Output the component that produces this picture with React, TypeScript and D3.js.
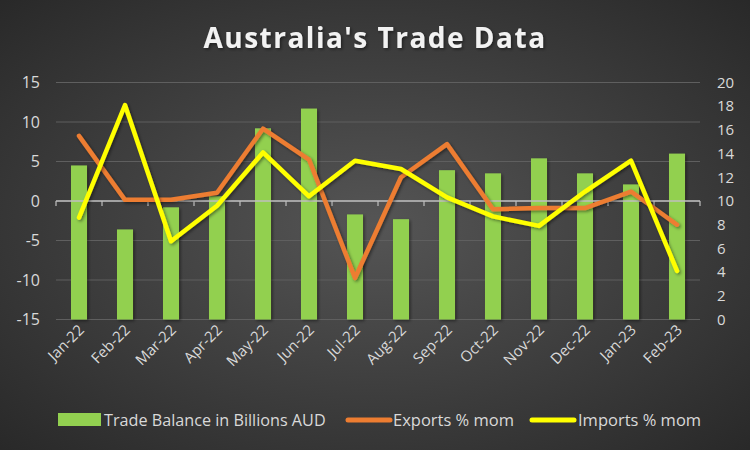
import React from "react";
import * as d3 from "d3";

const categories = ["Jan-22","Feb-22","Mar-22","Apr-22","May-22","Jun-22","Jul-22","Aug-22","Sep-22","Oct-22","Nov-22","Dec-22","Jan-23","Feb-23"];
const tradeBalance = [4.5, -3.6, -0.8, 0.6, 9.2, 11.7, -1.7, -2.3, 3.9, 3.5, 5.4, 3.5, 2.1, 6.0];
const exportsMom = [15.5, 10.1, 10.1, 10.7, 16.1, 13.5, 3.5, 12.0, 14.8, 9.3, 9.4, 9.4, 10.8, 8.0];
const importsMom = [8.6, 18.1, 6.6, 9.6, 14.1, 10.4, 13.4, 12.7, 10.3, 8.7, 7.9, 10.8, 13.4, 4.1];
const leftTicks = [-15, -10, -5, 0, 5, 10, 15];
const rightTicks = [0, 2, 4, 6, 8, 10, 12, 14, 16, 18, 20];
const title = "Australia's Trade Data";
const legendLabels = ["Trade Balance in Billions AUD", "Exports % mom", "Imports % mom"];

const W = 750, H = 450;
const plot = { left: 56, right: 700, top: 82.5, bottom: 319.5 };
const FONT = "'Open Sans', sans-serif";
const TXT = "#d9d9d9";
const GREEN = "#92D050", ORANGE = "#ED7D31", YELLOW = "#FFFF00";

export default function App() {
  const x = d3.scaleBand<string>().domain(categories).range([plot.left, plot.right]).paddingInner(0.652).paddingOuter(0.326);
  const step = x.step();
  const yL = d3.scaleLinear().domain([-15, 15]).range([plot.bottom, plot.top]);
  const yR = d3.scaleLinear().domain([0, 20]).range([plot.bottom, plot.top]);
  const cx = (c: string) => (x(c) as number) + x.bandwidth() / 2;
  const line = d3.line<number>().x((_, i) => cx(categories[i])).y((d) => yR(d));
  const boundaries = d3.range(categories.length + 1).map((i) => plot.left + i * step);

  return (
    <svg width={W} height={H} style={{ position: "absolute", left: 0, top: 0 }}>
      <defs>
        <radialGradient id="bg" cx="50%" cy="50%" r="75%">
          <stop offset="0%" stopColor="#555555" />
          <stop offset="100%" stopColor="#262626" />
        </radialGradient>
        <filter id="sh" x="-20%" y="-20%" width="140%" height="140%">
          <feDropShadow dx="1.5" dy="1.5" stdDeviation="1.5" floodColor="#000" floodOpacity="0.45" />
        </filter>
      </defs>
      <rect x={0} y={0} width={W} height={H} fill="url(#bg)" />
      <text x={375} y={48} textAnchor="middle" fill="#f2f2f2" fontFamily={FONT} fontWeight={700} fontSize={28} letterSpacing={1.5} filter="url(#sh)">{title}</text>

      {leftTicks.map((t) => (
        <line key={"g" + t} x1={plot.left} x2={plot.right} y1={yL(t)} y2={yL(t)} stroke="#5f5f5f" strokeWidth={1.2} />
      ))}
      {leftTicks.map((t) => (
        <text key={"l" + t} x={40} y={yL(t)} dy="0.35em" textAnchor="end" fill={TXT} fontFamily={FONT} fontSize={16}>{t}</text>
      ))}
      {rightTicks.map((t) => (
        <text key={"r" + t} x={717} y={yR(t)} dy="0.35em" textAnchor="start" fill={TXT} fontFamily={FONT} fontSize={15}>{t}</text>
      ))}

      {categories.map((c, i) => (
        <rect key={"b" + c} x={x(c)} y={yL(tradeBalance[i])} width={x.bandwidth()} height={yL(-15) - yL(tradeBalance[i])} fill={GREEN} filter="url(#sh)" />
      ))}

      <line x1={plot.left} x2={plot.right} y1={yL(0)} y2={yL(0)} stroke="#bfbfbf" strokeWidth={1.5} />
      {boundaries.map((b, i) => (
        <line key={"t" + i} x1={b} x2={b} y1={yL(0)} y2={yL(0) + 5} stroke="#bfbfbf" strokeWidth={1.2} />
      ))}

      <path d={line(exportsMom) || ""} fill="none" stroke={ORANGE} strokeWidth={4.5} strokeLinejoin="round" strokeLinecap="round" filter="url(#sh)" />
      <path d={line(importsMom) || ""} fill="none" stroke={YELLOW} strokeWidth={4.5} strokeLinejoin="round" strokeLinecap="round" filter="url(#sh)" />

      {categories.map((c) => (
        <text key={"x" + c} transform={`translate(${cx(c) + 6},${331}) rotate(-45)`} textAnchor="end" fill={TXT} fontFamily={FONT} fontSize={15}>{c}</text>
      ))}

      <g fontFamily={FONT} fontSize={16.5} fill={TXT}>
        <rect x={58} y={413} width={43} height={13} fill={GREEN} />
        <text x={104} y={420} dy="0.35em" fontSize={16.2}>{legendLabels[0]}</text>
        <line x1={348} x2={390} y1={420} y2={420} stroke={ORANGE} strokeWidth={5} strokeLinecap="round" />
        <text x={393} y={420} dy="0.35em">{legendLabels[1]}</text>
        <line x1={532} x2={574} y1={420} y2={420} stroke={YELLOW} strokeWidth={5} strokeLinecap="round" />
        <text x={578} y={420} dy="0.35em">{legendLabels[2]}</text>
      </g>
    </svg>
  );
}
